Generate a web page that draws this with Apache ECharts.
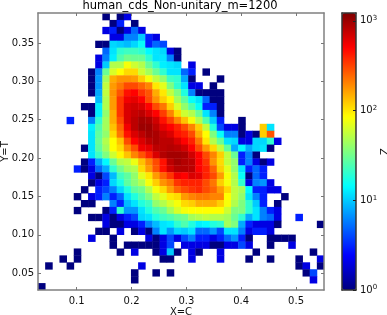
<!DOCTYPE html>
<html><head><meta charset="utf-8">
<style>html,body{margin:0;padding:0;background:#fff}#c{width:387px;height:315px;filter:blur(0.4px)}</style>
<script src="https://cdn.jsdelivr.net/npm/echarts@6/dist/echarts.min.js"></script>
</head><body><div id="c"></div>
<script>
const titleText='human_cds_Non-unitary_m=1200', xName='X=C', yName='Y=T', zName='Z';
const xRange=[0.0294,0.551], yRange=[0.0282,0.389], zRange=[1,1225], binCount=40;
const xTicks=[0.1,0.2,0.3,0.4,0.5], yTicks=[0.05,0.10,0.15,0.20,0.25,0.30,0.35], zTicks=[1,10,100,1000];
// Z per bin, row 0 = top of the plot; keys are column numbers
const row00={9:1,11:1,12:2};
const row01={10:1,11:3,13:1};
const row02={9:2,10:3,11:1,12:2,13:5,14:2};
const row03={10:2,11:2,12:6,13:6,14:10,15:3,16:2};
const row04={8:1,9:1,10:11,11:10,12:9,13:11,14:15,15:3,16:5,17:4};
const row05={9:5,10:12,11:20,12:22,13:22,14:20,15:14,16:12,17:11,18:2,19:1};
const row06={8:2,9:6,10:13,11:25,12:32,13:30,14:30,15:20,16:12,17:12,18:6,19:1};
const row07={8:2,9:10,10:50,11:50,12:80,13:60,14:50,15:30,16:20,17:13,18:12,19:11,21:2};
const row08={7:1,8:6,9:30,10:65,11:85,12:110,13:110,14:60,15:45,16:30,17:20,18:12,19:12,20:5,21:3,23:1};
const row09={7:1,8:7,9:45,10:150,11:180,12:180,13:170,14:120,15:80,16:55,17:40,18:22,19:20,20:8,21:1,25:1};
const row10={7:1,8:7,9:55,10:170,11:220,12:300,13:300,14:250,15:200,16:100,17:70,18:35,19:20,20:12,21:2,22:2,24:1};
const row11={7:1,8:8,9:55,10:180,11:280,12:450,13:500,14:350,15:280,16:150,17:100,18:55,19:35,20:18,21:6,22:1,23:1,24:1,25:1};
const row12={8:9,9:50,10:170,11:350,12:550,13:600,14:500,15:300,16:180,17:120,18:90,19:45,20:28,21:15,22:12,23:5,24:1,25:1};
const row13={6:1,7:1,8:13,9:50,10:170,11:350,12:650,13:700,14:650,15:500,16:300,17:220,18:120,19:65,20:40,21:25,22:15,23:3,24:3,25:1};
const row14={7:1,8:13,9:40,10:150,11:350,12:650,13:750,14:800,15:650,16:500,17:330,18:200,19:110,20:60,21:50,22:30,23:12,24:6,25:1};
const row15={4:3,7:6,8:20,9:45,10:150,11:300,12:650,13:800,14:950,15:900,16:700,17:450,18:320,19:200,20:130,21:80,22:50,23:25,24:10,25:3,28:1};
const row16={7:13,8:25,9:45,10:130,11:250,12:550,13:800,14:1000,15:1000,16:800,17:600,18:500,19:400,20:300,21:200,22:120,23:55,24:18,25:4,26:2,27:2,28:1,31:120,32:12};
const row17={7:12,8:28,9:40,10:110,11:220,12:450,13:650,14:800,15:950,16:900,17:750,18:650,19:450,20:400,21:300,22:150,23:85,24:35,25:15,26:6,27:6,28:1,29:2,30:1,31:120,32:280};
const row18={7:12,8:30,9:50,10:85,11:130,12:300,13:500,14:650,15:800,16:900,17:800,18:800,19:650,20:500,21:400,22:220,23:100,24:50,25:30,26:12,27:11,28:2,29:2,30:11,31:11,32:20,33:2};
const row19={6:1,7:12,8:28,9:45,10:85,11:110,12:200,13:300,14:550,15:600,16:800,17:800,18:850,19:800,20:700,21:500,22:300,23:170,24:110,25:55,26:28,27:8,28:14,29:8,30:11,31:12,32:1};
const row20={7:12,8:22,9:35,10:60,11:90,12:130,13:200,14:280,15:400,16:650,17:850,18:950,19:950,20:900,21:700,22:500,23:300,24:200,25:120,26:55,27:30,28:3,29:6,30:1};
const row21={6:1,7:3,8:8,9:14,10:30,11:50,12:55,13:75,14:130,15:200,16:300,17:450,18:800,19:950,20:850,21:800,22:500,23:350,24:180,25:110,26:55,27:40,28:3,29:6,30:2,31:1,32:2};
const row22={5:3,6:1,7:2,8:5,9:8,10:20,11:32,12:45,13:50,14:110,15:170,16:280,17:450,18:700,19:850,20:850,21:800,22:500,23:400,24:250,25:120,26:70,27:40,28:12,29:3,30:5,31:3};
const row23={7:2,8:1,9:4,10:9,11:22,12:28,13:40,14:70,15:100,16:170,17:250,18:350,19:550,20:500,21:650,22:600,23:400,24:300,25:170,26:80,27:50,28:15,29:1,30:5,31:3};
const row24={7:1,8:2,9:3,10:11,11:17,12:28,13:38,14:50,15:80,16:120,17:180,18:220,19:350,20:400,21:400,22:400,23:300,24:220,25:120,26:80,27:50,28:20,29:2,30:6,31:7,32:2};
const row25={6:1,8:3,9:4,10:6,11:11,12:18,13:28,14:32,15:50,16:80,17:110,18:170,19:250,20:300,21:350,22:380,23:300,24:250,25:170,26:110,27:55,28:45,29:14,30:3,31:3,32:2,33:2};
const row26={5:1,7:2,8:3,9:6,10:3,11:5,12:12,13:18,14:25,15:35,16:55,17:70,18:100,19:110,20:170,21:200,22:220,23:220,24:200,25:200,26:85,27:55,28:40,29:12,30:6,31:3,34:1};
const row27={6:1,7:1,10:6,11:3,12:9,13:12,14:18,15:22,16:40,17:50,18:65,19:80,20:110,21:120,22:150,23:150,24:150,25:120,26:80,27:50,28:35,29:20,30:10,31:3,33:1};
const row28={5:1,9:1,10:3,11:20,12:7,13:7,14:12,15:18,16:25,17:30,18:45,19:65,20:80,21:85,22:85,23:85,24:85,25:85,26:60,27:35,28:35,29:20,30:12,31:6,32:3,33:2};
const row29={7:1,8:1,9:2,10:1,11:2,12:3,13:4,14:11,15:12,16:18,17:22,18:25,19:30,20:32,21:45,22:50,23:55,24:50,25:50,26:45,27:30,28:20,29:8,30:12,31:6,32:5,33:2,36:3};
const row30={9:2,10:1,11:1,12:2,13:2,14:3,15:6,16:9,17:12,18:13,19:20,20:25,21:18,22:13,23:14,24:18,25:20,26:45,27:35,28:8,29:3,30:2,31:2,32:2,33:1,39:1};
const row31={8:1,9:1,11:2,13:1,14:2,15:1,16:6,17:12,18:7,19:11,20:10,21:12,22:5,23:5,24:7,25:4,26:12,27:12,28:6,29:2,30:3,31:3,32:2};
const row32={7:2,10:1,15:2,16:1,17:2,18:4,19:2,20:4,21:6,22:3,23:3,24:2,25:3,26:5,27:7,28:3,29:1,32:1,33:1,34:1,35:1};
const row33={10:1,12:1,13:1,14:1,15:1,16:1,17:2,18:4,20:2,21:2,22:2,23:2,24:1,25:1,26:2,27:2,28:4,29:2,32:1,35:2};
const row34={5:1,11:1,13:2,16:1,17:2,18:10,19:1,21:2,22:1,25:2,30:1,38:1};
const row35={3:1,5:1,17:1,18:1,21:2,25:2,29:1,32:1,36:1,39:2};
const row36={1:1,4:1,14:2,36:1,37:2,39:1};
const row37={13:1,16:1,18:1,37:1,38:4};
const row38={13:1,38:2};
const row39={0:1};
const zRows=[row00,row01,row02,row03,row04,row05,row06,row07,row08,row09,row10,row11,row12,row13,row14,row15,row16,row17,row18,row19,row20,row21,row22,row23,row24,row25,row26,row27,row28,row29,row30,row31,row32,row33,row34,row35,row36,row37,row38,row39];
const jet=['#00007f','#0000ff','#007fff','#00ffff','#7fff7f','#ffff00','#ff7f00','#ff0000','#7f0000'];

const dx=(xRange[1]-xRange[0])/binCount, dy=(yRange[1]-yRange[0])/binCount;
const cells=[];
zRows.forEach((row,r)=>{Object.keys(row).forEach(k=>{
  const c=+k; cells.push([xRange[0]+c*dx, yRange[1]-(r+1)*dy, Math.log10(row[k])]);
});});

const line={lineStyle:{color:'#808080',width:1.5}};
const cbLine={show:true,onZero:false,lineStyle:{color:'#333',width:1.5}};
const tick={show:true,inside:true,length:3,lineStyle:{color:'#777',width:1}};
const font={color:'#111',fontSize:10,fontFamily:'DejaVu Sans'};
const chart=echarts.init(document.getElementById('c'),null,{renderer:'canvas'});
function valAxis(extra){return Object.assign({type:'value',splitLine:{show:false},axisLine:Object.assign({show:true,onZero:false},line),axisTick:tick,z:10,showMinLabel:false,showMaxLabel:false,nameMoveOverlap:false},extra);}
chart.setOption({
  animation:false,backgroundColor:'#fff',
  title:{text:titleText,left:175,top:-5,z:20,textAlign:'center',textStyle:{fontFamily:'DejaVu Sans',fontWeight:'normal',fontSize:11.5,color:'#000'}},
  grid:[{left:38,top:13,width:286,height:277,outerBoundsMode:'none'},{left:342,top:13,width:14,height:277,outerBoundsMode:'none'}],
  xAxis:[
    valAxis({gridIndex:0,min:xRange[0],max:xRange[1],position:'bottom',
      axisLabel:Object.assign({margin:6,customValues:xTicks,formatter:v=>v.toFixed(1)},font),
      axisTick:Object.assign({},tick,{customValues:xTicks}),
      name:xName,nameLocation:'middle',nameGap:17,nameTextStyle:font}),
    valAxis({gridIndex:0,min:xRange[0],max:xRange[1],position:'top',axisLabel:{show:false,customValues:xTicks},axisTick:Object.assign({},tick,{customValues:xTicks})}),
    valAxis({gridIndex:1,min:0,max:1,position:'bottom',axisLabel:{show:false},axisTick:{show:false},axisLine:cbLine}),
    valAxis({gridIndex:1,min:0,max:1,position:'top',axisLabel:{show:false},axisTick:{show:false},axisLine:cbLine})
  ],
  yAxis:[
    valAxis({gridIndex:0,min:yRange[0],max:yRange[1],position:'left',
      axisLabel:Object.assign({margin:4,customValues:yTicks,formatter:v=>v.toFixed(2)},font),
      axisTick:Object.assign({},tick,{customValues:yTicks}),
      name:yName,nameLocation:'middle',nameGap:28,nameTextStyle:font}),
    valAxis({gridIndex:0,min:yRange[0],max:yRange[1],position:'right',axisLabel:{show:false,customValues:yTicks},axisTick:Object.assign({},tick,{customValues:yTicks})}),
    {type:'log',logBase:10,gridIndex:1,min:zRange[0],max:zRange[1],position:'right',z:10,nameMoveOverlap:false,
      splitLine:{show:false},minorTick:{show:false},
      axisLine:cbLine,
      axisTick:{show:true,inside:true,length:3,customValues:zTicks,lineStyle:{color:'#222',width:1}},
      axisLabel:{margin:4,customValues:zTicks,color:'#111',
        formatter:v=>'{b|10}{s|'+Math.round(Math.log10(v))+'}',
        rich:{b:{fontSize:10,fontFamily:'DejaVu Sans',color:'#111'},s:{fontSize:7,fontFamily:'DejaVu Sans',color:'#111',verticalAlign:'top',padding:[0,0,5,0]}}},
      name:zName,nameLocation:'middle',nameGap:24,nameTextStyle:font},
    valAxis({gridIndex:1,min:0,max:1,position:'left',axisLabel:{show:false},axisTick:{show:false},axisLine:cbLine})
  ],
  visualMap:{type:'continuous',seriesIndex:0,dimension:2,min:0,max:Math.log10(zRange[1]),calculable:false,
    orient:'vertical',left:342,top:13,itemWidth:14,itemHeight:277,text:['',''],showLabel:false,
    inRange:{color:jet},z:4,padding:0},
  series:[{type:'custom',xAxisIndex:0,yAxisIndex:0,coordinateSystem:'cartesian2d',clip:true,
    encode:{x:0,y:1},data:cells,
    renderItem:(p,api)=>{
      const a=api.coord([api.value(0),api.value(1)+dy]);
      const b=api.coord([api.value(0)+dx,api.value(1)]);
      return {type:'rect',shape:{x:a[0],y:a[1],width:b[0]-a[0]+0.4,height:b[1]-a[1]+0.4},style:{fill:api.visual('color')}};
    }}]
});
</script></body></html>
